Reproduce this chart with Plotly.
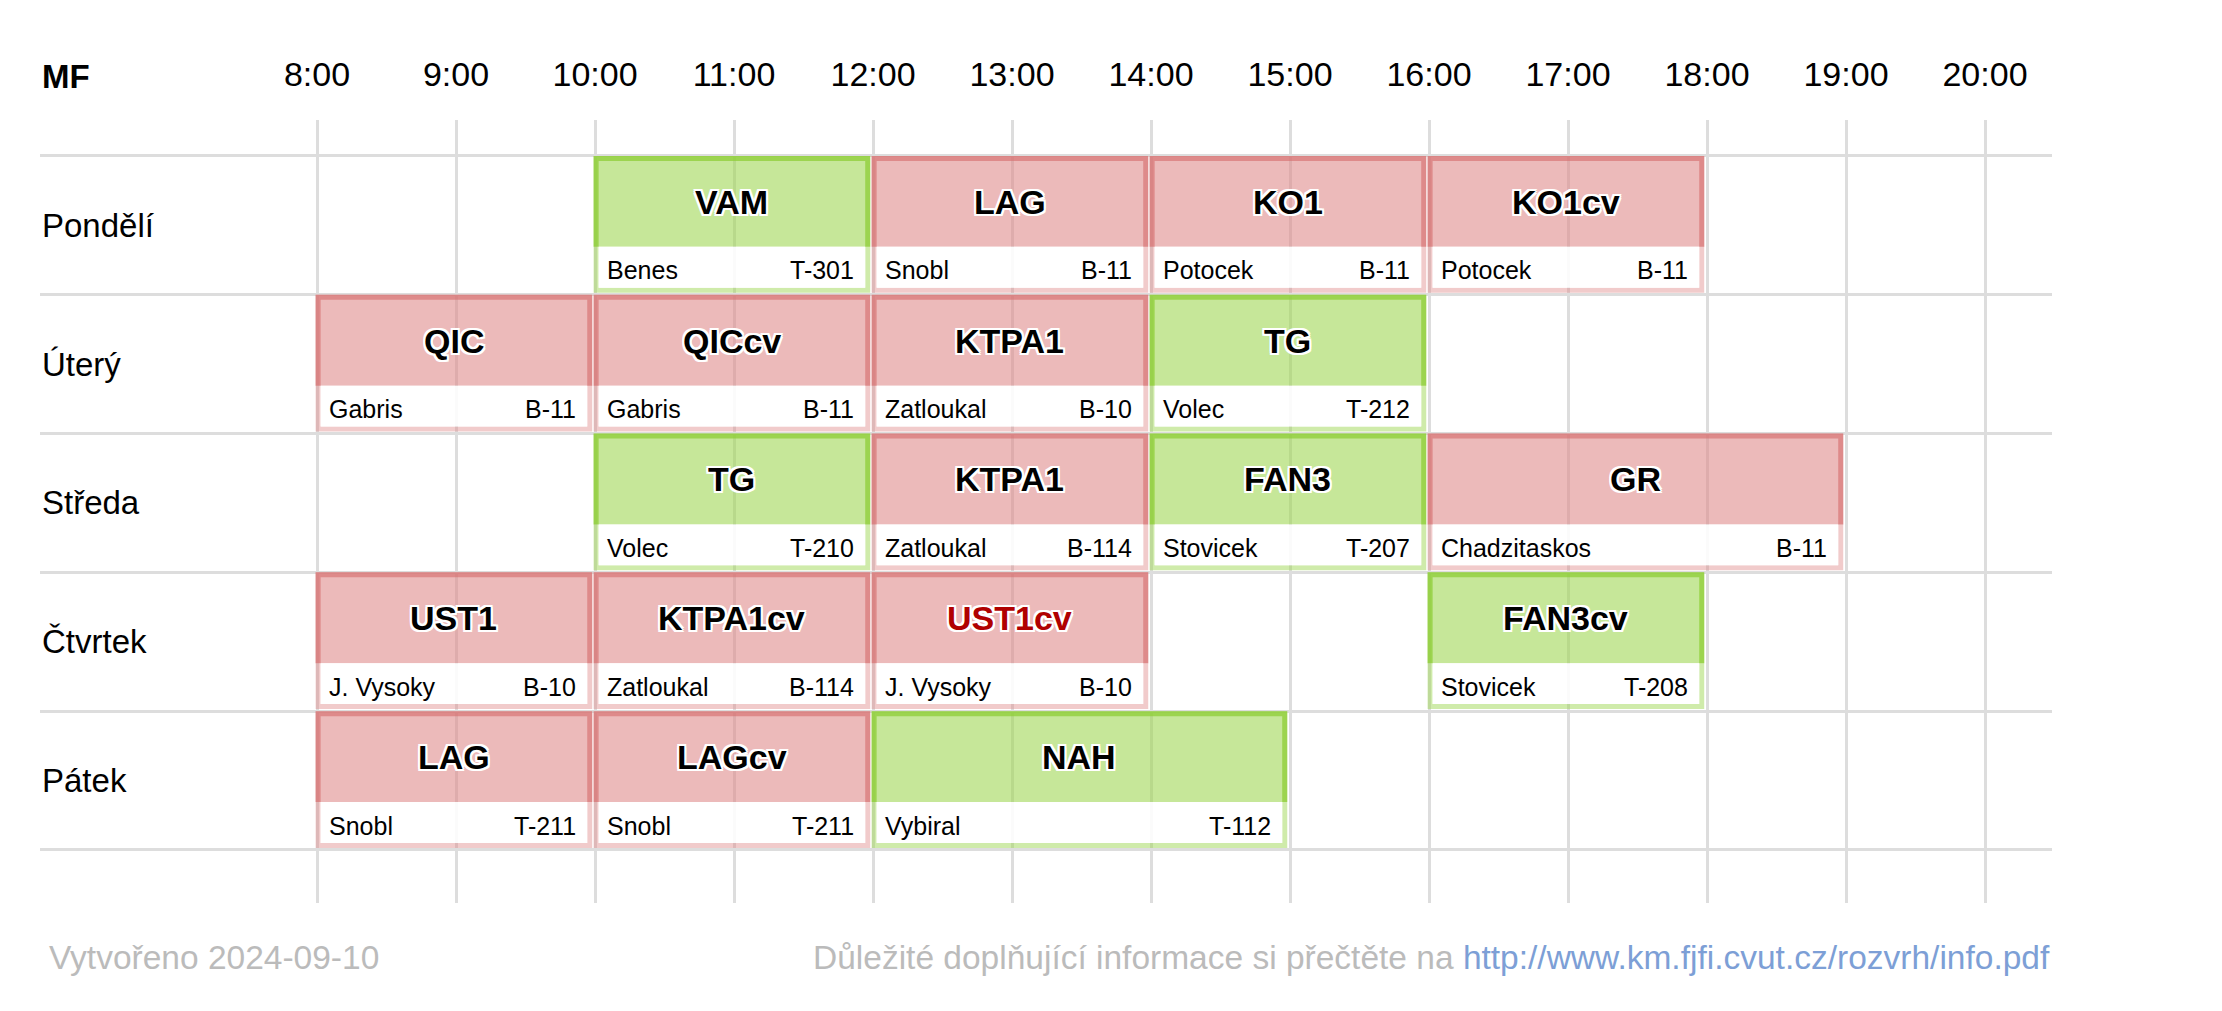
import plotly.graph_objects as go

# rozvrh MF - data
days = ['Pondělí', 'Úterý', 'Středa', 'Čtvrtek', 'Pátek']
hours = list(range(8, 21))
hour_labels = [f'{h}:00' for h in hours]

block_day = [0, 0, 0, 0,
             1, 1, 1, 1,
             2, 2, 2, 2,
             3, 3, 3, 3,
             4, 4, 4]
block_start = [10, 12, 14, 16,
               8, 10, 12, 14,
               10, 12, 14, 16,
               8, 10, 12, 16,
               8, 10, 12]
block_end = [12, 14, 16, 18,
             10, 12, 14, 16,
             12, 14, 16, 19,
             10, 12, 14, 18,
             10, 12, 15]
block_code = ['VAM', 'LAG', 'KO1', 'KO1cv',
              'QIC', 'QICcv', 'KTPA1', 'TG',
              'TG', 'KTPA1', 'FAN3', 'GR',
              'UST1', 'KTPA1cv', 'UST1cv', 'FAN3cv',
              'LAG', 'LAGcv', 'NAH']
block_teacher = ['Benes', 'Snobl', 'Potocek', 'Potocek',
                 'Gabris', 'Gabris', 'Zatloukal', 'Volec',
                 'Volec', 'Zatloukal', 'Stovicek', 'Chadzitaskos',
                 'J. Vysoky', 'Zatloukal', 'J. Vysoky', 'Stovicek',
                 'Snobl', 'Snobl', 'Vybiral']
block_room = ['T-301', 'B-11', 'B-11', 'B-11',
              'B-11', 'B-11', 'B-10', 'T-212',
              'T-210', 'B-114', 'T-207', 'B-11',
              'B-10', 'B-114', 'B-10', 'T-208',
              'T-211', 'T-211', 'T-112']
block_kind = ['g', 'r', 'r', 'r',
              'r', 'r', 'r', 'g',
              'g', 'r', 'g', 'r',
              'r', 'r', 'r', 'g',
              'r', 'r', 'g']
block_alert = ['UST1cv']

FONT = 'Liberation Sans, Arial, sans-serif'
COLORS = {
    'r': dict(fill='rgba(224,140,140,0.6)', edge='rgba(215,115,115,0.68)', low='rgba(224,140,140,0.45)'),
    'g': dict(fill='rgba(160,215,85,0.6)', edge='rgba(140,205,50,0.72)', low='rgba(160,215,85,0.5)'),
}
OUTLINE = ', '.join(f'{dx}px {dy}px 0 #fff' for dx in (-2, 0, 2) for dy in (-2, 0, 2) if dx or dy)

fig = go.Figure()
fig.add_trace(go.Scatter(x=[8, 20], y=[0, 5], mode='markers', marker=dict(opacity=0), hoverinfo='skip', showlegend=False))

d = 0.018  # ~2.5 px in both directions
shapes = []
annotations = []
for i in range(len(block_code)):
    c = COLORS[block_kind[i]]
    r = block_day[i]
    x0 = block_start[i] - 0.01
    x1 = block_end[i] - 0.02
    yt, yh, yb = r, r + 0.655, r + 0.985
    # hlavicka
    shapes.append(dict(type='rect', x0=x0, x1=x1, y0=yt, y1=yh, fillcolor=c['fill'], line_width=0, layer='above'))
    shapes.append(dict(type='path', path=f'M {x0+d},{yh} L {x0+d},{yt+d} L {x1-d},{yt+d} L {x1-d},{yh}',
                       line=dict(color=c['edge'], width=5), layer='above'))
    # spodni cast
    shapes.append(dict(type='path', path=f'M {x0+d},{yh} L {x0+d},{yb-d} L {x1-d},{yb-d} L {x1-d},{yh}',
                       line=dict(color=c['low'], width=5), layer='above'))
    shapes.append(dict(type='rect', x0=x0+2*d, x1=x1-2*d, y0=yh, y1=yb-2*d,
                       fillcolor='rgba(255,255,255,0.88)', line_width=0, layer='above'))
    tcol = '#b00000' if block_code[i] in block_alert else 'black'
    annotations.append(dict(x=(x0 + x1) / 2, y=r + 0.33, text=f'<b>{block_code[i]}</b>', showarrow=False,
                            font=dict(family=FONT, size=34, color=tcol, shadow=OUTLINE)))
    annotations.append(dict(x=x0 + 0.08, y=r + 0.825, text=block_teacher[i], showarrow=False, xanchor='left',
                            font=dict(family=FONT, size=25, color='black')))
    annotations.append(dict(x=x1 - 0.1, y=r + 0.825, text=block_room[i], showarrow=False, xanchor='right',
                            font=dict(family=FONT, size=25, color='black')))

for k, day in enumerate(days):
    annotations.append(dict(x=0, xref='paper', y=k + 0.5, text=day, showarrow=False, xanchor='left',
                            font=dict(family=FONT, size=33, color='black')))

annotations.append(dict(x=0, xref='paper', y=1.055, yref='paper', text='<b>MF</b>', showarrow=False,
                        xanchor='left', yanchor='middle', font=dict(family=FONT, size=33, color='black')))
annotations.append(dict(x=0.0035, xref='paper', y=-0.070, yref='paper', text='Vytvořeno 2024-09-10',
                        showarrow=False, xanchor='left', yanchor='middle',
                        font=dict(family=FONT, size=33.5, color='#bbbbbb')))
annotations.append(dict(x=1, xref='paper', y=-0.070, yref='paper',
                        text='Důležité doplňující informace si přečtěte na '
                             '<span style="color:#7d9fd6">http://www.km.fjfi.cvut.cz/rozvrh/info.pdf</span>',
                        showarrow=False, xanchor='right', yanchor='middle',
                        font=dict(family=FONT, size=33.5, color='#bbbbbb')))

# body stranky ma 8px okraj -> posunout o 8px
fig.update_layout(
    width=2222, height=1011,
    margin=dict(l=32, r=178, t=112, b=116),
    paper_bgcolor='white', plot_bgcolor='white',
    shapes=shapes, annotations=annotations,
    showlegend=False,
    font=dict(family=FONT),
    xaxis=dict(range=[6.007, 20.482], side='top', tickvals=hours, ticktext=hour_labels,
               tickfont=dict(size=34, color='black'), ticks='outside', ticklen=19, tickcolor='rgba(0,0,0,0)',
               showgrid=True, gridcolor='#dddddd', gridwidth=3, zeroline=False, showline=False, fixedrange=True),
    yaxis=dict(range=[5.382, -0.259], tickvals=list(range(len(days) + 1)), showticklabels=False,
               showgrid=True, gridcolor='#dddddd', gridwidth=3, zeroline=False, showline=False, fixedrange=True),
)

fig.write_html("out.html")
